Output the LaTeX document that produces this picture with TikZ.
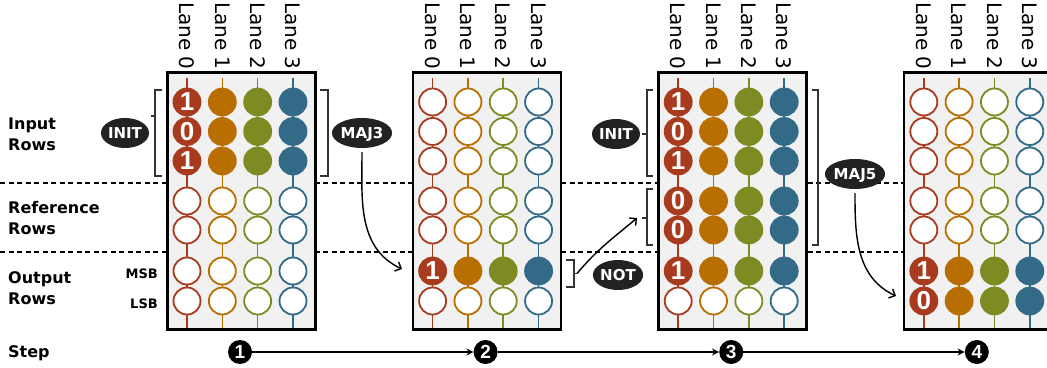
\documentclass[tikz,border=0pt]{standalone}
\usepackage{fontspec}
\setmainfont{DejaVu Sans}
\newfontfamily\bitfont{Liberation Sans}
\usepackage{xcolor}
\usetikzlibrary{arrows.meta,shapes.geometric,positioning}

\definecolor{lanezero}{HTML}{A83B1E}
\definecolor{laneone}{HTML}{B86E00}
\definecolor{lanetwo}{HTML}{7E8A22}
\definecolor{lanethree}{HTML}{326A88}
\definecolor{boxgray}{HTML}{F1F1F1}
\definecolor{opblack}{HTML}{222222}
\definecolor{bracegray}{HTML}{333333}

\tikzset{
  lanebox/.style={draw=black, line width=2.6pt, fill=boxgray, inner sep=0pt,
    minimum width=148pt, minimum height=257pt, anchor=south west},
  lanewire/.style={draw=#1, line width=1.6pt},
  lanelabel/.style={rotate=-90, inner sep=0pt, font=\fontsize{20}{20}\selectfont},
  bit/.style={circle, inner sep=0pt, minimum size=27pt, line width=1.8pt},
  setbit/.style={bit, draw=#1, fill=#1, text=white,
    font=\bitfont\bfseries\fontsize{26}{26}\selectfont},
  clearbit/.style={bit, draw=#1, fill=white},
  rowsplit/.style={line width=1.1pt, dash pattern=on 5pt off 3.5pt},
  brace/.style={draw=bracegray, line width=1.4pt},
  rowlabel/.style={anchor=west, align=left, inner sep=0pt,
    font=\bfseries\fontsize{16}{21}\selectfont},
  sidelabel/.style={anchor=east, inner sep=0pt, font=\bfseries\fontsize{13}{13}\selectfont},
  opbubble/.style={ellipse, fill=opblack, text=white, inner sep=0pt,
    minimum height=30pt, text height=11pt, text depth=0pt,
    font=\bfseries\fontsize{15}{15}\selectfont},
  oparrow/.style={line width=1.4pt, -{Straight Barb[length=5pt, width=10pt]}},
  stepdot/.style={circle, fill=black, text=white, inner sep=0pt, minimum size=24pt,
    font=\bitfont\bfseries\fontsize{19}{19}\selectfont},
  steparrow/.style={line width=1.8pt, -{Stealth[length=7pt, width=7pt]}}
}

% one row of four bits; an empty digit gives a cleared row
\newcommand{\bitrow}[5]{%
  \def\bitdigit{#5}%
  \ifx\bitdigit\empty
    \foreach \j/\c in {0/lanezero,1/laneone,2/lanetwo,3/lanethree}
      \node[clearbit=\c] (#1-#3-\j) at (#2+21+35.33*\j,#4) {};
  \else
    \node[setbit=lanezero] (#1-#3-0) at (#2+21,#4) {#5};
    \foreach \j/\c in {1/laneone,2/lanetwo,3/lanethree}
      \node[setbit=\c] (#1-#3-\j) at (#2+21+35.33*\j,#4) {};
  \fi
}

% subarray: name, left edge, lane 0 digits of rows 1..7
\newcommand{\lanepanel}[9]{%
  \node[lanebox] (#1) at (#2,36) {};
  \foreach \j/\c in {0/lanezero,1/laneone,2/lanetwo,3/lanethree} {
    \draw[lanewire=\c] (#2+21+35.33*\j,289) -- (#2+21+35.33*\j,39);
    \node[lanelabel] (#1-lane\j) at (#2+21+35.33*\j,331) {Lane \j};
  }
  \bitrow{#1}{#2}{1}{265}{#3}
  \bitrow{#1}{#2}{2}{235.5}{#4}
  \bitrow{#1}{#2}{3}{206}{#5}
  \bitrow{#1}{#2}{4}{166}{#6}
  \bitrow{#1}{#2}{5}{137}{#7}
  \bitrow{#1}{#2}{6}{96}{#8}
  \bitrow{#1}{#2}{7}{66}{#9}
}

\begin{document}
\begin{tikzpicture}[x=1pt, y=1pt]
\useasboundingbox (0,0) rectangle (1047,367);

% row group borders
\draw[rowsplit] (0,184) -- (1047,184);
\draw[rowsplit] (0,115) -- (1047,115);

\lanepanel{pa}{166}{1}{0}{1}{}{}{}{}
\lanepanel{pb}{411.6}{}{}{}{}{}{1}{}
\lanepanel{pc}{657.2}{1}{0}{1}{0}{0}{1}{}
\lanepanel{pd}{902.8}{}{}{}{}{}{1}{0}

% % % % % % % % % % % % % % % % % % % % % % % % % %

% brackets
\draw[brace] (162,277) -- (155,277) -- (155,191) -- (162,191);
\draw[brace] (155,251) -- (151,251);
\draw[brace] (320,277) -- (328,277) -- (328,191) -- (320,191);
\draw[brace] (566,107) -- (574,107) -- (574,80) -- (566,80);
\draw[brace] (574,93.5) -- (577,93.5);
\draw[brace] (653,277) -- (647,277) -- (647,191) -- (653,191);
\draw[brace] (647,233) -- (642,233);
\draw[brace] (653,178) -- (647,178) -- (647,122) -- (653,122);
\draw[brace] (647,149) -- (642,149);
\draw[brace] (812,277) -- (818,277) -- (818,122) -- (812,122);

\coordinate (outB) at (577,93.5);
\coordinate (refC) at (637,149);
\coordinate (inB) at (402,98);
\coordinate (inD) at (896,71);

\node[opbubble] (initA) at (125,234) {INIT};
\node[opbubble] (majA) at (362,234) {MAJ3};
\node[opbubble] (initC) at (616,233) {INIT};
\node[opbubble] (notB) at (618,92) {NOT};
\node[opbubble] (majC) at (855,193) {MAJ5};

\draw[oparrow, shorten <=4pt] (majA.south) to [out=-90,in=155] (inB);
\draw[oparrow, shorten <=4pt] (majC.south) to [out=-90,in=155] (inD);
\draw[oparrow] (outB) to [out=50,in=-140] (refC);

% row names
\node[rowlabel] (lin) at (8,233) {Input\\Rows};
\node[rowlabel] (lref) at (8,148.5) {Reference\\Rows};
\node[rowlabel] (lout) at (8,78.5) {Output\\Rows};
\node[rowlabel, anchor=base west] (lstep) at (8,10) {Step};
\node[sidelabel] (msb) at (158,93) {MSB};
\node[sidelabel] (lsb) at (158,63) {LSB};

% steps
\node[stepdot] (s1) at (240,15) {1};
\node[stepdot] (s2) at (485.6,15) {2};
\node[stepdot] (s3) at (731.2,15) {3};
\node[stepdot] (s4) at (976.8,15) {4};
\draw[steparrow] (s1) -- (s2);
\draw[steparrow] (s2) -- (s3);
\draw[steparrow] (s3) -- (s4);
\end{tikzpicture}
\end{document}
